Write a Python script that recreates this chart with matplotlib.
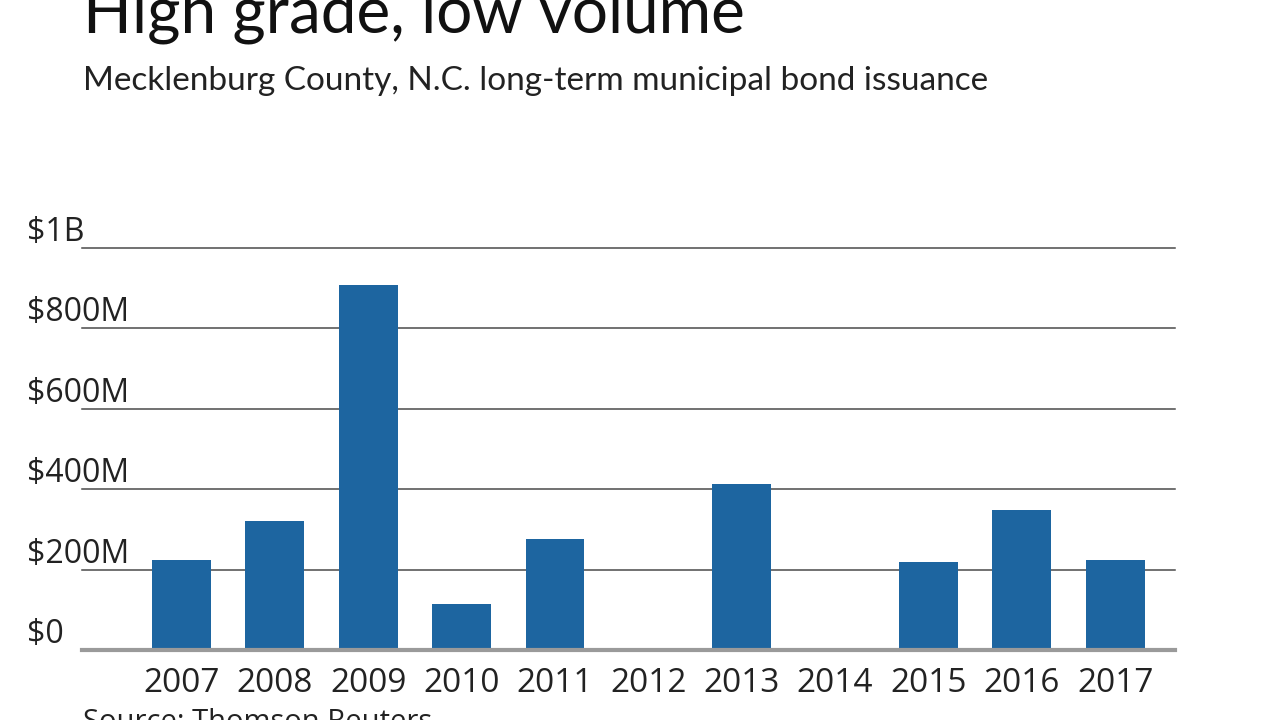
import matplotlib
matplotlib.use("Agg")
import matplotlib.pyplot as plt
import matplotlib.transforms as mtransforms

years = ["2007", "2008", "2009", "2010", "2011", "2012",
         "2013", "2014", "2015", "2016", "2017"]
issuance = [224, 322, 908, 115, 277, 0, 414, 0, 219, 349, 224]  # $ millions
y_ticks = [0, 200, 400, 600, 800, 1000]
y_labels = ["$0", "$200M", "$400M", "$600M", "$800M", "$1B"]

title = "High grade, low volume"
subtitle = "Mecklenburg County, N.C. long-term municipal bond issuance"
source = "Source: Thomson Reuters"

fig = plt.figure(figsize=(12.8, 7.2), dpi=100)
ax = fig.add_axes([82 / 1280, 1 - 650 / 720, 1093 / 1280, 402 / 720])

x = range(len(years))
ax.bar(x, issuance, width=0.63, color="#1d65a0", zorder=3)

ax.set_xlim(-1.065, len(years) - 1 + 0.64)
ax.set_ylim(0, 1000)

# gridlines
for v in y_ticks[1:]:
    ax.axhline(v, color="#4a4a4a", lw=1.1, zorder=1, clip_on=False)
ax.axhline(0, color="#9a9a9a", lw=3, zorder=4, clip_on=False)

# y labels sit above their gridline, left aligned
trans = mtransforms.blended_transform_factory(fig.transFigure, ax.transData)
trans = trans + mtransforms.ScaledTranslation(0, 7 / 100, fig.dpi_scale_trans)
for v, lab in zip(y_ticks, y_labels):
    ax.text(27 / 1280, v, lab, transform=trans, ha="left", va="baseline",
            fontsize=23, family="Open Sans", color="#222222")

ax.set_xticks(list(x))
ax.set_xticklabels(years, fontsize=24, family="Open Sans", color="#222222")
ax.tick_params(axis="x", length=0, pad=12)
ax.set_yticks([])
for s in ax.spines.values():
    s.set_visible(False)

fig.text(83 / 1280, 1 - 33 / 720, title, fontsize=46, family="Lato",
         ha="left", va="baseline", color="#111111")
fig.text(83 / 1280, 1 - 90 / 720, subtitle, fontsize=24, family="Lato",
         ha="left", va="baseline", color="#222222")
fig.text(83 / 1280, 1 - 730 / 720, source, fontsize=21, family="Open Sans",
         ha="left", va="baseline", color="#222222")

fig.savefig("out.png", dpi=100)
